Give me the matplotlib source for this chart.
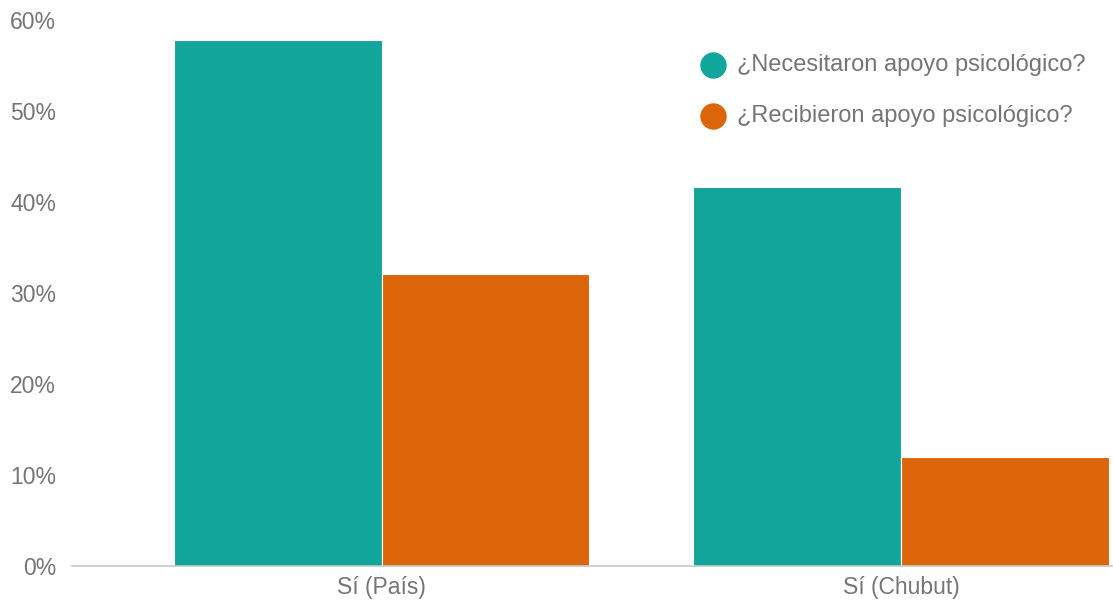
"""Grouped bar chart: psychological support needed vs received."""

import matplotlib
matplotlib.use("Agg")
import matplotlib.pyplot as plt
from matplotlib.lines import Line2D
import numpy as np

categories = ["Sí (País)", "Sí (Chubut)"]
necesitaron = [57.8, 41.6]
recibieron = [32.1, 12.0]
series_labels = ["¿Necesitaron apoyo psicológico?", "¿Recibieron apoyo psicológico?"]
y_ticks = [0, 10, 20, 30, 40, 50, 60]

TEAL = "#11a59b"
ORANGE = "#dd6509"
TEXT = "#757575"

plt.rcParams["font.family"] = ["Liberation Sans", "DejaVu Sans"]

W, H = 1113, 601
fig = plt.figure(figsize=(W / 100, H / 100), dpi=100)
ax = fig.add_axes([72 / W, 35 / H, 1040 / W, 546 / H])

x = np.arange(len(categories))
width = 0.4
ax.bar(x - width / 2, necesitaron, width, color=TEAL, edgecolor="white", linewidth=0.8)
ax.bar(x + width / 2, recibieron, width, color=ORANGE, edgecolor="white", linewidth=0.8)

ax.set_xlim(-0.596, 1.406)
ax.set_ylim(0, 60)
ax.set_yticks(y_ticks)
ax.set_yticklabels([f"{t}%" for t in y_ticks])
ax.set_xticks(x)
ax.set_xticklabels(categories)
ax.tick_params(axis="both", length=0, labelsize=16.5, colors=TEXT)
ax.tick_params(axis="y", pad=11.5)
ax.tick_params(axis="x", pad=7)

for side in ["top", "right", "left"]:
    ax.spines[side].set_visible(False)
ax.spines["bottom"].set_color("#c8c8c8")
ax.spines["bottom"].set_linewidth(1.2)

# legend drawn by hand so the spacing matches
for i, (label, color) in enumerate(zip(series_labels, [TEAL, ORANGE])):
    yc = 1 - (65 + 51 * i) / H
    fig.add_artist(Line2D([713 / W], [yc], marker="o", markersize=18,
                          color=color, linestyle="", transform=fig.transFigure))
    fig.text(737 / W, yc, label, fontsize=17, color=TEXT, va="center", ha="left")

fig.savefig("out.png", dpi=100)
